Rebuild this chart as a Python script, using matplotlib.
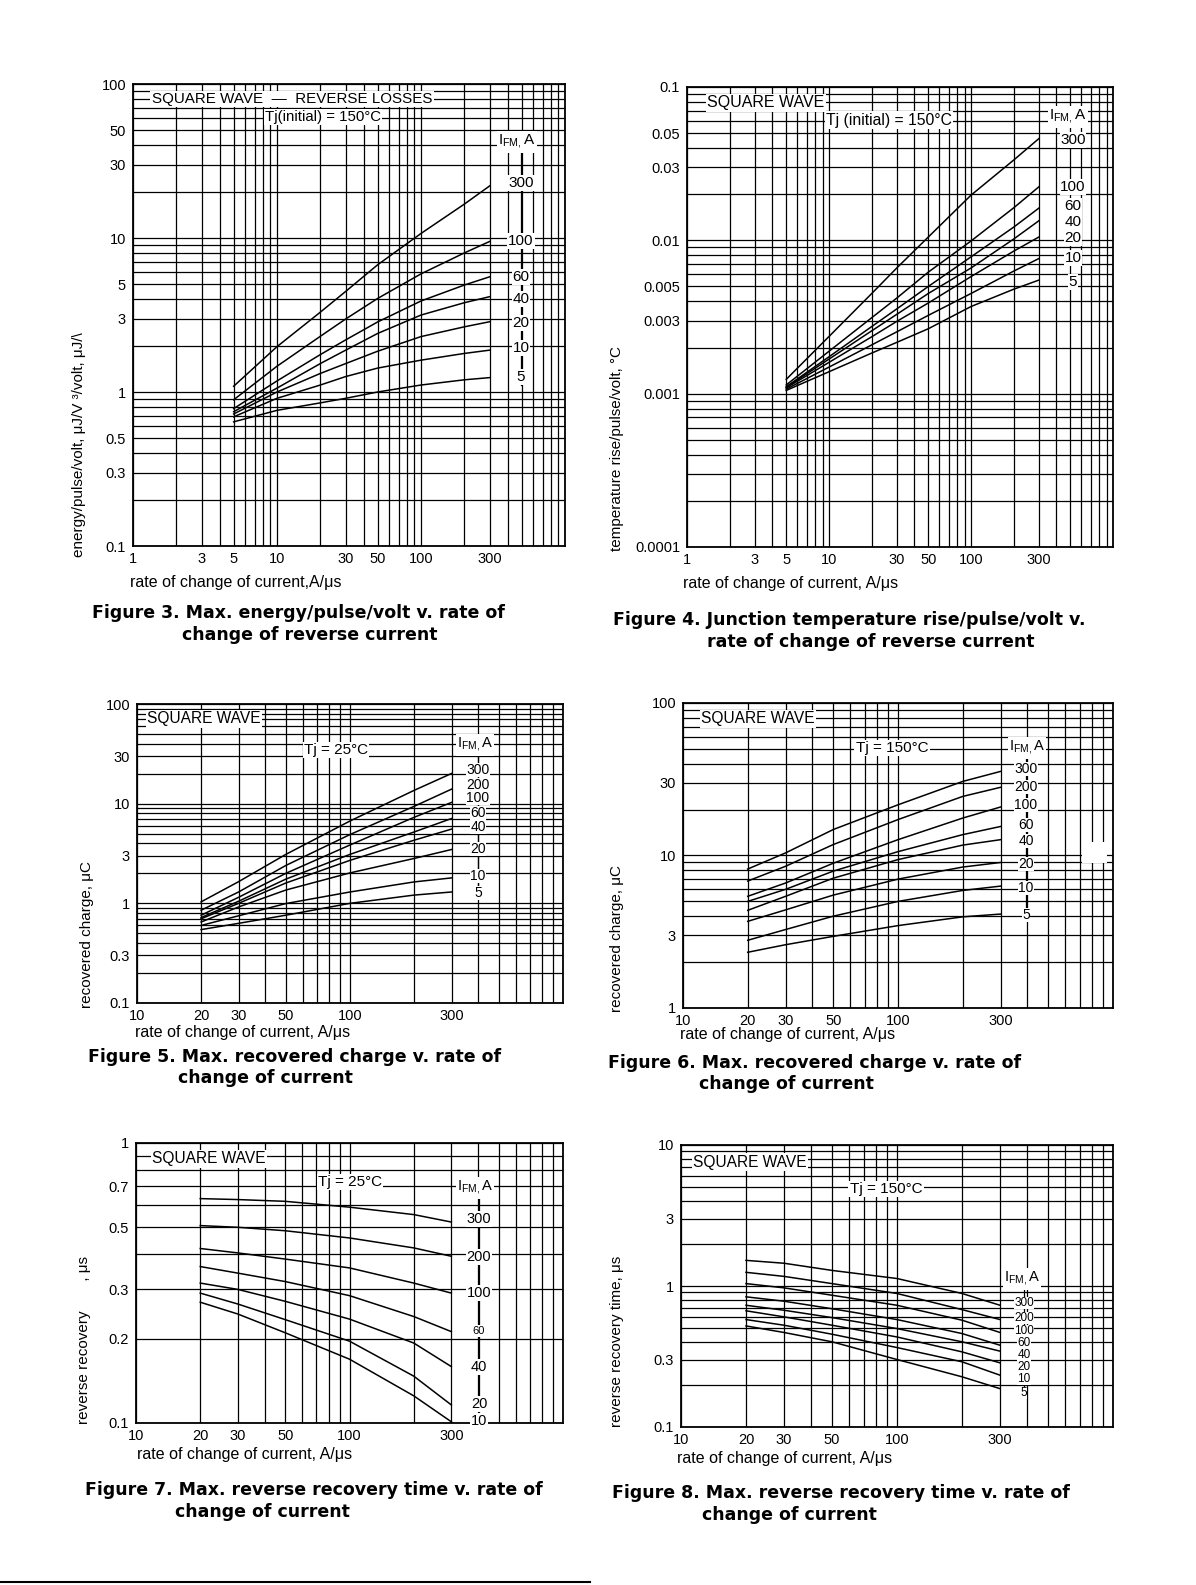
import numpy as np
import matplotlib
matplotlib.use('Agg')
import matplotlib.pyplot as plt
from matplotlib.lines import Line2D
from matplotlib.ticker import FixedLocator, FixedFormatter, LogLocator, NullFormatter

plt.rcParams['font.family'] = ['Liberation Sans', 'DejaVu Sans']
plt.rcParams['mathtext.fontset'] = 'custom'
plt.rcParams['mathtext.rm'] = 'Liberation Sans'

# ---------------- data ----------------
# Figure 3: max energy/pulse/volt (uJ/V) v. di/dt, one row per IFM
f3_x = [5, 10, 20, 30, 50, 100, 200, 300]
f3_ifm = ['300', '100', '60', '40', '20', '10', '5']
f3_y = [
    [1.09, 1.97, 3.3, 4.5, 6.7, 10.7, 16.6, 21.8],
    [0.89, 1.47, 2.3, 2.98, 4.05, 5.85, 8.0, 9.5],
    [0.78, 1.18, 1.75, 2.18, 2.85, 3.9, 4.95, 5.6],
    [0.745, 1.06, 1.53, 1.87, 2.4, 3.16, 3.8, 4.16],
    [0.72, 1.0, 1.32, 1.53, 1.84, 2.29, 2.65, 2.86],
    [0.69, 0.91, 1.11, 1.26, 1.43, 1.61, 1.78, 1.87],
    [0.64, 0.76, 0.85, 0.91, 1.0, 1.11, 1.2, 1.24],
]

# Figure 4: junction temperature rise/pulse/volt (degC)
f4_x = [5, 10, 20, 30, 50, 100, 200, 300]
f4_ifm = ['300', '100', '60', '40', '20', '10', '5']
f4_y = [
    [0.00124, 0.00236, 0.0045, 0.0066, 0.0105, 0.0197, 0.0334, 0.046],
    [0.00114, 0.00189, 0.00313, 0.0042, 0.0062, 0.0099, 0.0163, 0.0223],
    [0.00111, 0.00174, 0.00274, 0.00357, 0.0050, 0.0078, 0.0122, 0.0162],
    [0.0011, 0.00168, 0.00257, 0.00329, 0.0045, 0.0066, 0.0102, 0.0134],
    [0.00109, 0.0016, 0.00235, 0.00296, 0.0039, 0.0058, 0.0085, 0.0105],
    [0.00107, 0.00149, 0.00208, 0.00253, 0.00324, 0.0045, 0.0063, 0.0076],
    [0.00105, 0.00139, 0.00184, 0.00216, 0.00265, 0.0037, 0.0048, 0.0055],
]

# Figure 5: recovered charge (uC), Tj = 25 C
f5_x = [20, 30, 50, 100, 200, 300]
f5_ifm = ['300', '200', '100', '60', '40', '20', '10', '5']
f5_y = [
    [1.035, 1.65, 3.1, 6.7, 13.6, 20.1],
    [0.853, 1.3, 2.4, 4.9, 9.4, 14.0],
    [0.76, 1.15, 2.0, 3.85, 7.3, 10.3],
    [0.72, 1.05, 1.75, 3.1, 5.2, 7.1],
    [0.70, 1.0, 1.6, 2.7, 4.3, 5.56],
    [0.65, 0.92, 1.36, 2.02, 2.82, 3.47],
    [0.60, 0.75, 0.995, 1.3, 1.64, 1.8],
    [0.545, 0.63, 0.76, 1.0, 1.21, 1.3],
]

# Figure 6: recovered charge (uC), Tj = 150 C
f6_x = [20, 30, 50, 100, 200, 300]
f6_ifm = ['300', '200', '100', '60', '40', '20', '10', '5']
f6_y = [
    [8.15, 10.4, 14.8, 21.5, 30.6, 35.6],
    [6.8, 8.5, 11.8, 17.2, 24.4, 28.0],
    [5.4, 6.6, 8.9, 12.7, 17.6, 20.8],
    [5.0, 6.0, 7.9, 10.6, 13.7, 15.5],
    [4.37, 5.4, 7.1, 9.4, 11.7, 12.7],
    [3.7, 4.4, 5.5, 7.0, 8.4, 9.0],
    [2.78, 3.27, 4.0, 5.0, 5.9, 6.3],
    [2.32, 2.6, 2.95, 3.47, 3.96, 4.13],
]

# Figure 7: reverse recovery time (us), Tj = 25 C
f7_x = [20, 30, 50, 100, 200, 300]
f7_ifm = ['300', '200', '100', '60', '40', '20', '10']
f7_y = [
    [0.633, 0.628, 0.619, 0.59, 0.555, 0.522],
    [0.507, 0.50, 0.486, 0.458, 0.422, 0.394],
    [0.42, 0.405, 0.385, 0.358, 0.316, 0.291],
    [0.362, 0.343, 0.32, 0.285, 0.24, 0.212],
    [0.316, 0.30, 0.272, 0.235, 0.193, 0.159],
    [0.291, 0.266, 0.234, 0.196, 0.147, 0.116],
    [0.27, 0.245, 0.21, 0.169, 0.125, 0.101],
]

# Figure 8: reverse recovery time (us), Tj = 150 C
f8_x = [20, 30, 50, 100, 200, 300]
f8_ifm = ['300', '200', '100', '60', '40', '20', '10', '5']
f8_y = [
    [1.52, 1.45, 1.29, 1.13, 0.885, 0.73],
    [1.25, 1.17, 1.04, 0.885, 0.68, 0.578],
    [1.04, 0.97, 0.86, 0.73, 0.572, 0.468],
    [0.838, 0.78, 0.69, 0.578, 0.46, 0.38],
    [0.73, 0.673, 0.597, 0.499, 0.402, 0.345],
    [0.667, 0.604, 0.527, 0.435, 0.341, 0.285],
    [0.578, 0.527, 0.455, 0.366, 0.29, 0.233],
    [0.521, 0.468, 0.402, 0.301, 0.227, 0.187],
]

xticks_a = [1, 3, 5, 10, 30, 50, 100, 300]
xticks_b = [10, 20, 30, 50, 100, 300]
f3_yticks = [0.1, 0.3, 0.5, 1, 3, 5, 10, 30, 50, 100]
f4_yticks = [0.0001, 0.001, 0.003, 0.005, 0.01, 0.03, 0.05, 0.1]
f5_yticks = [0.1, 0.3, 1, 3, 10, 30, 100]
f6_yticks = [1, 3, 10, 30, 100]
f7_yticks = [0.1, 0.2, 0.3, 0.5, 0.7, 1]
f8_yticks = [0.1, 0.3, 1, 3, 10]

# ---------------- page layout (pixels) ----------------
W, H = 1196, 1585
fig = plt.figure(figsize=(W / 100, H / 100), dpi=100)
fig.patch.set_facecolor('white')

IFM = r'I$_{\mathrm{FM,}}$A'
WHITE = dict(facecolor='white', edgecolor='none', pad=1.0)
CAP = dict(ha='left', fontsize=12.5, weight='bold', family='DejaVu Sans')
XL = dict(ha='left', fontsize=11.5)
YL = dict(rotation=90, va='bottom', fontsize=11)


def px_axes(l, t, r, b):
    return fig.add_axes([l / W, 1 - b / H, (r - l) / W, (b - t) / H])


def ftext(x, y, s, **kw):
    kw.setdefault('ha', 'center')
    kw.setdefault('va', 'center')
    return fig.text(x / W, 1 - y / H, s, **kw)


def vline(x, y0, y1, lw=0.9):
    fig.add_artist(Line2D([x / W, x / W], [1 - y0 / H, 1 - y1 / H],
                          color='black', lw=lw, transform=fig.transFigure))


def fmt(v):
    return ('%g' % v)


def setup(ax, xlim, ylim, xt, yt):
    ax.set_xscale('log')
    ax.set_yscale('log')
    ax.set_xlim(*xlim)
    ax.set_ylim(*ylim)
    ax.xaxis.set_major_locator(FixedLocator(xt))
    ax.xaxis.set_major_formatter(FixedFormatter([fmt(v) for v in xt]))
    ax.yaxis.set_major_locator(FixedLocator(yt))
    ax.yaxis.set_major_formatter(FixedFormatter([fmt(v) for v in yt]))
    for axis in (ax.xaxis, ax.yaxis):
        axis.set_minor_locator(LogLocator(base=10, subs=np.arange(1, 10), numticks=30))
        axis.set_minor_formatter(NullFormatter())
    ax.grid(True, which='both', color='black', lw=0.9)
    ax.tick_params(which='both', length=0, labelsize=10.5)
    ax.tick_params(axis='x', pad=4)
    ax.tick_params(axis='y', pad=5)
    for s in ax.spines.values():
        s.set_linewidth(1.3)


def curves(ax, x, rows):
    for row in rows:
        ax.plot(x, row, color='black', lw=1.1)


def lab_box(pad):
    return dict(facecolor='white', edgecolor='none', pad=pad)


# ---- Figure 3
ax3 = px_axes(133, 84, 565, 546)
setup(ax3, (1, 1000), (0.1, 100), xticks_a, f3_yticks)
curves(ax3, f3_x, f3_y)
ftext(292, 99, 'SQUARE WAVE  \u2014  REVERSE LOSSES', fontsize=10.9, bbox=WHITE)
ftext(323, 117, 'Tj(initial) = 150\u00b0C', fontsize=10.8, bbox=WHITE)
vline(521, 150, 385)
ftext(517, 142, IFM, fontsize=11, bbox=WHITE)
for lab, y in zip(f3_ifm, [183, 241, 277, 299, 323, 348, 377]):
    ftext(521, y, lab, fontsize=11, bbox=lab_box(0.6))
ftext(130, 582, 'rate of change of current,A/\u03bcs', **XL)
ftext(79, 557, 'energy/pulse/volt, \u03bcJ/V \u00b3/volt, \u03bcJ/\\', **YL)
ftext(92, 613, 'Figure 3. Max. energy/pulse/volt v. rate of', **CAP)
ftext(182, 635, 'change of reverse current', **CAP)

# ---- Figure 4
ax4 = px_axes(687, 87, 1113, 547)
setup(ax4, (1, 1000), (0.0001, 0.1), xticks_a, f4_yticks)
curves(ax4, f4_x, f4_y)
ftext(766, 103, 'SQUARE WAVE', fontsize=11.5, bbox=WHITE)
ftext(889, 120, 'Tj (initial) = 150\u00b0C', fontsize=11.3, bbox=WHITE)
ftext(1068, 117, IFM, fontsize=11, bbox=WHITE)
for lab, y in zip(f4_ifm, [140, 187, 206, 222, 238, 258, 282]):
    ftext(1073, y, lab, fontsize=11, bbox=lab_box(0.4))
ftext(683, 583, 'rate of change of current, A/\u03bcs', **XL)
ftext(617, 551, 'temperature rise/pulse/volt, \u00b0C', **YL)
ftext(613, 620, 'Figure 4. Junction temperature rise/pulse/volt v.', **CAP)
ftext(707, 642, 'rate of change of reverse current', **CAP)

# ---- Figure 5
ax5 = px_axes(137, 704, 563, 1003)
setup(ax5, (10, 1000), (0.1, 100), xticks_b, f5_yticks)
curves(ax5, f5_x, f5_y)
ftext(204, 719, 'SQUARE WAVE', fontsize=11.2, bbox=WHITE)
ftext(336, 750, 'Tj = 25\u00b0C', fontsize=11, bbox=WHITE)
vline(478, 755, 895)
ftext(475, 745, IFM, fontsize=10.5, bbox=WHITE)
for lab, y in zip(f5_ifm, [770, 785, 798, 813, 827, 849, 876, 893]):
    ftext(478, y, lab, fontsize=10, bbox=lab_box(0.2))
ftext(135, 1032, 'rate of change of current, A/\u03bcs', **XL)
ftext(87, 1008, 'recovered charge, \u03bcC', **YL)
ftext(88, 1057, 'Figure 5. Max. recovered charge v. rate of', **CAP)
ftext(178, 1078, 'change of current', **CAP)

# ---- Figure 6
ax6 = px_axes(683, 703, 1113, 1008)
setup(ax6, (10, 1000), (1, 100), xticks_b, f6_yticks)
curves(ax6, f6_x, f6_y)
ftext(758, 719, 'SQUARE WAVE', fontsize=11.2, bbox=WHITE)
ftext(892, 748, 'Tj = 150\u00b0C', fontsize=11, bbox=WHITE)
vline(1026, 755, 918)
ftext(1027, 748, IFM, fontsize=10.5, bbox=WHITE)
for lab, y in zip(f6_ifm, [769, 787, 805, 825, 841, 864, 888, 915]):
    ftext(1026, y, lab, fontsize=10, bbox=lab_box(0.2))
fig.patches.append(plt.Rectangle((1082 / W, 1 - 863 / H), 25 / W, 21 / H,
                                 facecolor='white', edgecolor='none',
                                 transform=fig.transFigure, zorder=5))
ftext(680, 1035, 'rate of change of current, A/\u03bcs', **XL)
ftext(617, 1012, 'recovered charge, \u03bcC', **YL)
ftext(608, 1063, 'Figure 6. Max. recovered charge v. rate of', **CAP)
ftext(699, 1084, 'change of current', **CAP)

# ---- Figure 7
ax7 = px_axes(136, 1143, 563, 1423)
setup(ax7, (10, 1000), (0.1, 1), xticks_b, f7_yticks)
curves(ax7, f7_x, f7_y)
ftext(209, 1159, 'SQUARE WAVE', fontsize=11.2, bbox=WHITE)
ftext(350, 1182, 'Tj = 25\u00b0C', fontsize=11, bbox=WHITE)
vline(479, 1195, 1418)
ftext(475, 1188, IFM, fontsize=10.5, bbox=WHITE)
for lab, y, fs in zip(f7_ifm, [1219, 1257, 1293, 1331, 1367, 1404, 1421],
                      [10.5, 10.5, 10.5, 8, 10.5, 10.5, 10.5]):
    ftext(479, y, lab, fontsize=fs, bbox=lab_box(0.8))
ftext(137, 1454, 'rate of change of current, A/\u03bcs', **XL)
ftext(84, 1424, 'reverse recovery       , \u03bcs', **YL)
ftext(85, 1490, 'Figure 7. Max. reverse recovery time v. rate of', **CAP)
ftext(175, 1512, 'change of current', **CAP)

# ---- Figure 8
ax8 = px_axes(681, 1145, 1113, 1427)
setup(ax8, (10, 1000), (0.1, 10), xticks_b, f8_yticks)
curves(ax8, f8_x, f8_y)
ftext(750, 1162, 'SQUARE WAVE', fontsize=11.2, bbox=WHITE)
ftext(886, 1189, 'Tj = 150\u00b0C', fontsize=11, bbox=WHITE)
vline(1024, 1287, 1395)
ftext(1022, 1279, IFM, fontsize=10.5, bbox=WHITE)
for lab, y in zip(f8_ifm, [1303, 1318, 1331, 1343, 1355, 1367, 1379, 1393]):
    ftext(1024, y, lab, fontsize=8.5, bbox=lab_box(0.1))
ftext(677, 1458, 'rate of change of current, A/\u03bcs', **XL)
ftext(617, 1427, 'reverse recovery time, \u03bcs', **YL)
ftext(612, 1493, 'Figure 8. Max. reverse recovery time v. rate of', **CAP)
ftext(702, 1515, 'change of current', **CAP)

# page rule at the foot
fig.add_artist(Line2D([0, 590 / W], [1 - 1582 / H, 1 - 1582 / H], color='black', lw=1.5,
                      transform=fig.transFigure))

fig.savefig('out.png', dpi=100)
